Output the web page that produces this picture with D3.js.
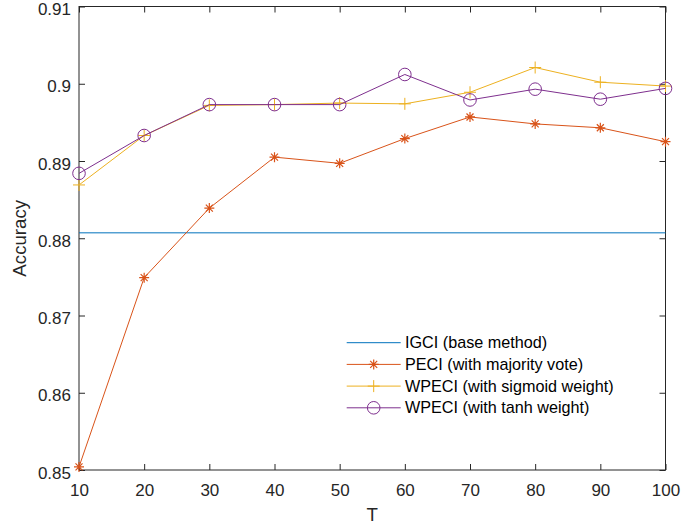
<!DOCTYPE html>
<html>
<head>
<meta charset="utf-8">
<script src="https://cdn.jsdelivr.net/npm/d3@7"></script>
<style>
  body { margin: 0; background: #fff; }
  svg { display: block; font-family: "Liberation Sans", Arial, Helvetica, sans-serif; }
  .tick text { fill: #262626; }
</style>
</head>
<body>
<div id="chart"></div>
<script>
// number of trees T on the x axis
var tValues = [10, 20, 30, 40, 50, 60, 70, 80, 90, 100];
var xTicks = [10, 20, 30, 40, 50, 60, 70, 80, 90, 100];
var yTicks = [0.85, 0.86, 0.87, 0.88, 0.89, 0.9, 0.91];

// accuracies
var igciAccuracy = 0.8807;
var peciAccuracy = [0.8504, 0.8749, 0.8839, 0.8905, 0.8897, 0.8929, 0.8957, 0.8948, 0.8943, 0.8925];
var sigmoidAccuracy = [0.8869, 0.8933, 0.8972, 0.8973, 0.8975, 0.8974, 0.8989, 0.9021, 0.9002, 0.8997];
var tanhAccuracy = [0.8884, 0.8933, 0.8973, 0.8973, 0.8973, 0.9012, 0.8979, 0.8993, 0.8980, 0.8994];

var legendNames = ["IGCI (base method)", "PECI (with majority vote)", "WPECI (with sigmoid weight)", "WPECI (with tanh weight)"];

var svgWidth = 681;
var svgHeight = 527;
var margin = { top: 6.5, right: 15.5, bottom: 57, left: 79 };
var chartWidth = svgWidth - margin.left - margin.right;
var chartHeight = svgHeight - margin.top - margin.bottom;

var axisColor = "#262626";
var colors = {
  igci: "#0072BD",
  peci: "#D95319",
  sigmoid: "#EDB120",
  tanh: "#7E2F8E"
};

var svg = d3.select("#chart")
  .append("svg")
  .attr("width", svgWidth)
  .attr("height", svgHeight);

var chartGroup = svg.append("g")
  .attr("transform", `translate(${margin.left}, ${margin.top})`);

var xScale = d3.scaleLinear()
  .domain([10, 100])
  .range([0, chartWidth]);
var yScale = d3.scaleLinear()
  .domain([0.85, 0.91])
  .range([chartHeight, 0]);

// axes with inward ticks, mirrored on top and right like matlab's box
var fmtY = d3.format("");
var xAxis = d3.axisBottom(xScale).tickValues(xTicks).tickSizeInner(-6).tickSizeOuter(0).tickPadding(14);
var yAxis = d3.axisLeft(yScale).tickValues(yTicks).tickSizeInner(-6).tickSizeOuter(0).tickPadding(8)
  .tickFormat(d => fmtY(+d.toFixed(2)));
var xAxisTop = d3.axisTop(xScale).tickValues(xTicks).tickSizeInner(-6).tickSizeOuter(0).tickFormat("");
var yAxisRight = d3.axisRight(yScale).tickValues(yTicks).tickSizeInner(-6).tickSizeOuter(0).tickFormat("");

function styleAxis(g) {
  g.select(".domain").remove();
  g.selectAll(".tick line").attr("stroke", axisColor);
  g.selectAll(".tick text").attr("font-size", 17).attr("font-family", null);
}

chartGroup.append("g")
  .attr("transform", `translate(0,${chartHeight})`)
  .call(xAxis)
  .call(styleAxis);
chartGroup.append("g")
  .call(yAxis)
  .call(styleAxis)
  .selectAll(".tick text").attr("dy", "0.48em");
chartGroup.append("g")
  .call(xAxisTop)
  .call(styleAxis);
chartGroup.append("g")
  .attr("transform", `translate(${chartWidth},0)`)
  .call(yAxisRight)
  .call(styleAxis);

// box around the plot
chartGroup.append("rect")
  .attr("x", 0)
  .attr("y", 0)
  .attr("width", chartWidth)
  .attr("height", chartHeight)
  .attr("fill", "none")
  .attr("stroke", axisColor)
  .attr("stroke-width", 1);

// marker drawing helpers
function drawStar(g, x, y, color, s) {
  var path = `M${x - s},${y}L${x + s},${y}M${x},${y - s}L${x},${y + s}` +
    `M${x - s * 0.7},${y - s * 0.7}L${x + s * 0.7},${y + s * 0.7}M${x - s * 0.7},${y + s * 0.7}L${x + s * 0.7},${y - s * 0.7}`;
  g.append("path").attr("d", path).attr("stroke", color).attr("stroke-width", 1.2).attr("fill", "none");
}
function drawPlus(g, x, y, color, s) {
  g.append("path")
    .attr("d", `M${x - s},${y}L${x + s},${y}M${x},${y - s}L${x},${y + s}`)
    .attr("stroke", color).attr("stroke-width", 1).attr("fill", "none");
}
function drawCircle(g, x, y, color, r) {
  g.append("circle").attr("cx", x).attr("cy", y).attr("r", r)
    .attr("stroke", color).attr("stroke-width", 1).attr("fill", "none");
}

var line = d3.line()
  .x(d => xScale(d.t))
  .y(d => yScale(d.v));

// IGCI base method as a flat line
chartGroup.append("path")
  .datum([{ t: tValues[0], v: igciAccuracy }, { t: tValues[tValues.length - 1], v: igciAccuracy }])
  .attr("d", line)
  .attr("fill", "none")
  .attr("stroke", colors.igci)
  .attr("stroke-width", 1);

var series = [
  { values: peciAccuracy, color: colors.peci, marker: "star" },
  { values: sigmoidAccuracy, color: colors.sigmoid, marker: "plus" },
  { values: tanhAccuracy, color: colors.tanh, marker: "circle" }
];

series.forEach(function (s) {
  var data = tValues.map((t, i) => ({ t: t, v: s.values[i] }));
  var g = chartGroup.append("g");
  g.append("path")
    .datum(data)
    .attr("d", line)
    .attr("fill", "none")
    .attr("stroke", s.color)
    .attr("stroke-width", 1);
  data.forEach(function (d) {
    var x = xScale(d.t), y = yScale(d.v);
    if (s.marker == "star") drawStar(g, x, y, s.color, 5);
    if (s.marker == "plus") drawPlus(g, x, y, s.color, 6);
    if (s.marker == "circle") drawCircle(g, x, y, s.color, 6.3);
  });
});

// axis labels
svg.append("text")
  .attr("transform", `translate(26, ${margin.top + chartHeight / 2}) rotate(-90)`)
  .attr("text-anchor", "middle")
  .attr("font-size", 18.7)
  .attr("fill", axisColor)
  .text("Accuracy");
svg.append("text")
  .attr("x", margin.left + chartWidth / 2)
  .attr("y", 521)
  .attr("text-anchor", "middle")
  .attr("font-size", 18.7)
  .attr("fill", axisColor)
  .text("T");

// legend, no box
var legend = svg.append("g");
var legendColors = [colors.igci, colors.peci, colors.sigmoid, colors.tanh];
var legendMarkers = ["none", "star", "plus", "circle"];
legendNames.forEach(function (name, i) {
  var y = 342.7 + i * 21.7;
  legend.append("line")
    .attr("x1", 346.7).attr("x2", 400.7)
    .attr("y1", y).attr("y2", y)
    .attr("stroke", legendColors[i])
    .attr("stroke-width", 1);
  if (legendMarkers[i] == "star") drawStar(legend, 373.7, y, legendColors[i], 5);
  if (legendMarkers[i] == "plus") drawPlus(legend, 373.7, y, legendColors[i], 6);
  if (legendMarkers[i] == "circle") drawCircle(legend, 373.7, y, legendColors[i], 6.3);
  legend.append("text")
    .attr("x", 405)
    .attr("y", y)
    .attr("dy", "0.35em")
    .attr("font-size", 16.2)
    .attr("fill", "#000")
    .text(name);
});
</script>
</body>
</html>
